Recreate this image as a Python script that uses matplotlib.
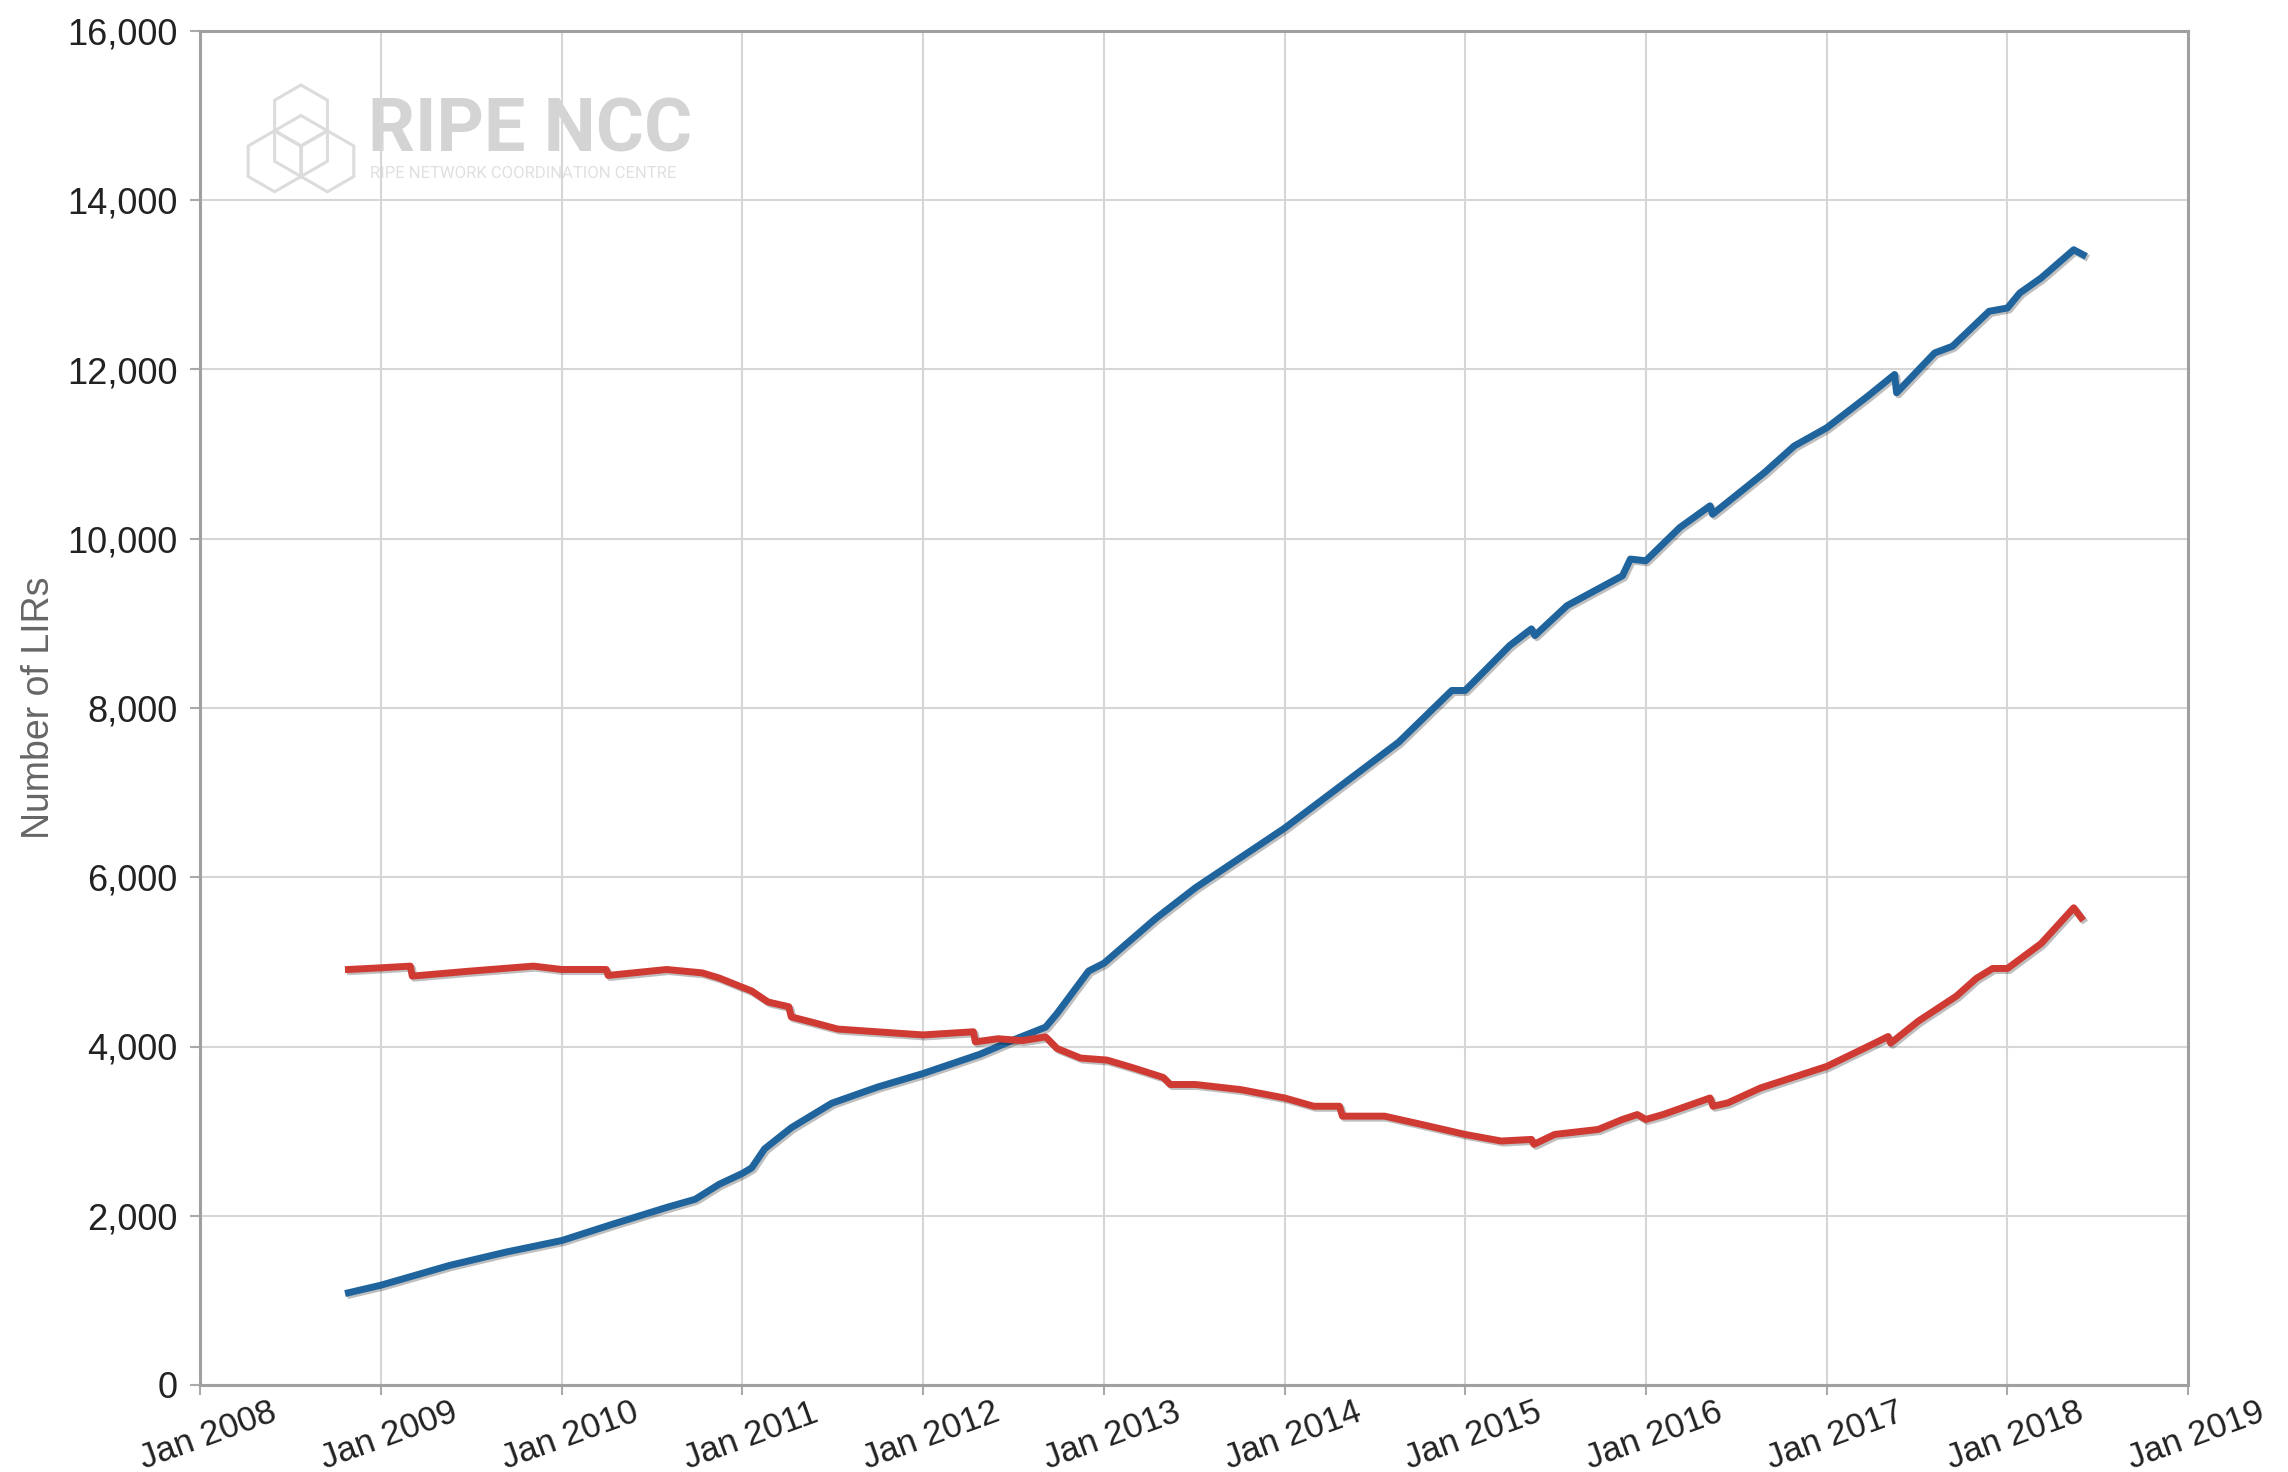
import matplotlib
matplotlib.use("Agg")
import matplotlib.pyplot as plt
import matplotlib.dates as mdates
import matplotlib.ticker as mticker
import matplotlib.patheffects as pe
from matplotlib.patches import RegularPolygon
from matplotlib.lines import Line2D
from matplotlib.transforms import Affine2D, ScaledTranslation
import numpy as np
import pandas as pd

plt.rcParams['font.family'] = ['Liberation Sans', 'DejaVu Sans']

# values
blue_dates = ['2008-10-27', '2009-01-01', '2009-05-20', '2009-09-10', '2010-01-01',
              '2010-04-15', '2010-08-01', '2010-09-28', '2010-11-15', '2011-01-01',
              '2011-01-20', '2011-02-15', '2011-04-10', '2011-07-01', '2011-10-01',
              '2012-01-01', '2012-04-25', '2012-07-08', '2012-09-05', '2012-09-28',
              '2012-12-01', '2013-01-01', '2013-04-15', '2013-07-05', '2014-01-01',
              '2014-08-20', '2014-12-05', '2015-01-01', '2015-04-01', '2015-05-15',
              '2015-05-22', '2015-07-26', '2015-11-15', '2015-12-01', '2016-01-01',
              '2016-03-10', '2016-05-10', '2016-05-15', '2016-08-28', '2016-10-27',
              '2017-01-01', '2017-03-25', '2017-05-18', '2017-05-22', '2017-08-07',
              '2017-09-12', '2017-11-25', '2018-01-01', '2018-01-26', '2018-03-10',
              '2018-05-15', '2018-06-03']
blue_values = [1090, 1180, 1414, 1570, 1707,
               1902, 2098, 2195, 2371, 2500,
               2566, 2790, 3040, 3330, 3520,
               3680, 3908, 4092, 4229, 4389,
               4892, 4984, 5510, 5876, 6580,
               7598, 8207, 8207, 8738, 8935,
               8856, 9210, 9563, 9760, 9740,
               10133, 10389, 10290, 10782, 11096,
               11312, 11686, 11941, 11725, 12196,
               12275, 12688, 12727, 12904, 13081,
               13415, 13356]

red_dates = ['2008-10-27', '2009-01-01', '2009-03-01', '2009-03-05', '2009-06-28',
             '2009-11-05', '2010-01-01', '2010-04-01', '2010-04-05', '2010-08-01',
             '2010-10-12', '2010-11-15', '2011-01-01', '2011-01-20', '2011-02-22',
             '2011-04-05', '2011-04-10', '2011-05-20', '2011-07-13', '2011-10-10',
             '2012-01-01', '2012-04-12', '2012-04-16', '2012-06-01', '2012-07-20',
             '2012-09-05', '2012-09-28', '2012-11-15', '2013-01-07', '2013-03-01',
             '2013-05-01', '2013-05-15', '2013-07-05', '2013-10-05', '2014-01-01',
             '2014-03-01', '2014-04-22', '2014-04-28', '2014-07-22', '2014-10-05',
             '2015-01-01', '2015-03-15', '2015-05-15', '2015-05-20', '2015-07-01',
             '2015-09-27', '2015-11-15', '2015-12-15', '2016-01-01', '2016-02-05',
             '2016-05-10', '2016-05-16', '2016-06-15', '2016-08-20', '2017-01-01',
             '2017-03-25', '2017-05-05', '2017-05-10', '2017-07-05', '2017-09-20',
             '2017-10-30', '2017-12-02', '2018-01-01', '2018-03-10', '2018-05-15',
             '2018-05-30']
red_values = [4910, 4930, 4950, 4832, 4890,
              4950, 4910, 4910, 4840, 4910,
              4870, 4810, 4700, 4656, 4526,
              4470, 4350, 4290, 4206, 4170,
              4137, 4174, 4055, 4092, 4069,
              4114, 3977, 3863, 3840, 3748,
              3634, 3551, 3551, 3490, 3392,
              3294, 3294, 3177, 3177, 3079,
              2961, 2883, 2902, 2844, 2961,
              3020, 3138, 3196, 3138, 3196,
              3392, 3294, 3334, 3510, 3765,
              4000, 4118, 4039, 4300, 4596,
              4804, 4922, 4922, 5216, 5639,
              5522]

y_ticks = [0, 2000, 4000, 6000, 8000, 10000, 12000, 14000, 16000]
x_years = list(range(2008, 2020))

W, H = 2288, 1472
fig = plt.figure(figsize=(W / 100, H / 100), dpi=100, facecolor='white')
ax = fig.add_axes([200 / W, 1 - 1385 / H, 1988 / W, 1354 / H])
ax.patch.set_facecolor('none')

shadow = [pe.SimpleLineShadow(offset=(1.5, -1.5), shadow_color='black', alpha=0.25), pe.Normal()]
ax.plot(pd.to_datetime(blue_dates), blue_values, color='#1f649c', lw=5,
        solid_joinstyle='round', path_effects=shadow, zorder=3)
ax.plot(pd.to_datetime(red_dates), red_values, color='#cf3a33', lw=5,
        solid_joinstyle='round', path_effects=shadow, zorder=3)

ax.set_xlim(pd.Timestamp('2008-01-01'), pd.Timestamp('2019-01-01'))
ax.set_ylim(0, 16000)
ax.set_xticks(pd.to_datetime([f'{y}-01-01' for y in x_years]))
ax.xaxis.set_major_formatter(mdates.DateFormatter('Jan %Y'))
ax.set_yticks(y_ticks)
ax.yaxis.set_major_formatter(mticker.FuncFormatter(lambda v, p: f'{int(v):,}'))

ax.grid(True, color='#d6d6d6', lw=1.5)
ax.set_axisbelow(True)
ax.tick_params(axis='both', direction='out', length=7, width=1.5, color='#aaaaaa',
               labelcolor='#222222')
ax.tick_params(axis='y', pad=9, labelsize=26)
ax.tick_params(axis='x', pad=1, labelsize=25)
shift = ScaledTranslation(8 / 100, 0, fig.dpi_scale_trans)
for lbl in ax.get_xticklabels():
    lbl.set_rotation(20)
    lbl.set_ha('center')
    lbl.set_transform(lbl.get_transform() + shift)

for side in ['left', 'top', 'right', 'bottom']:
    ax.spines[side].set_color('#a0a0a0')
    ax.spines[side].set_linewidth(2.2)
for side in ['right', 'bottom']:
    ax.spines[side].set_path_effects([pe.SimplePatchShadow(offset=(2, -2), alpha=0.25), pe.Normal()])

ax.set_ylabel('Number of LIRs', fontsize=27, color='#666666')
ax.yaxis.set_label_coords(-0.072, 0.5)

# RIPE NCC watermark, positioned in image pixels
tr = Affine2D().scale(1 / W, -1 / H).translate(0, 1) + fig.transFigure
logo_col = '#dcdcdc'
R = 30.5
cx, cy = 301, 146
dx = np.sqrt(3) * R / 2
for hx, hy in [(cx, cy - R), (cx - dx, cy + R / 2), (cx + dx, cy + R / 2), (cx, cy)]:
    fig.add_artist(RegularPolygon((hx, hy), 6, radius=R, transform=tr, fill=False,
                                  edgecolor=logo_col, lw=2.2, zorder=-1))
for ex, ey in [(cx - dx, cy - R / 2), (cx + dx, cy - R / 2), (cx, cy + R)]:
    fig.add_artist(Line2D([cx, ex], [cy, ey], transform=tr, color=logo_col, lw=2.2, zorder=-1))
fig.text(368, 151, 'RIPE NCC', transform=tr, family='Roboto', weight='bold',
         fontsize=53, color='#d4d4d4', va='baseline', ha='left', zorder=-1)
fig.text(370, 178, 'RIPE NETWORK COORDINATION CENTRE', transform=tr, family='Roboto',
         fontsize=12, color='#e0e0e0', va='baseline', ha='left', zorder=-1)

fig.savefig('out.png', dpi=100, facecolor='white')
